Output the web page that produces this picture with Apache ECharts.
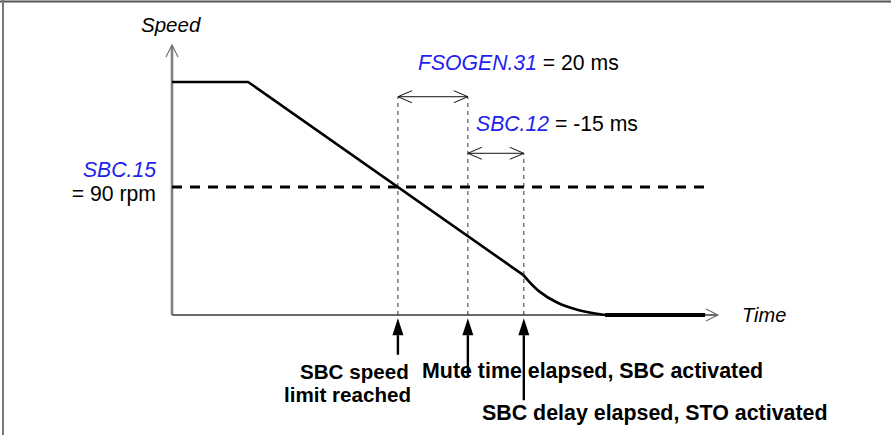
<!DOCTYPE html>
<html><head><meta charset="utf-8">
<script src="https://cdn.jsdelivr.net/npm/echarts@6/dist/echarts.min.js"></script>
<style>html,body{margin:0;padding:0;background:#fff}#c{width:891px;height:435px}</style>
</head><body><div id="c"></div>
<script>
// ---- data (schematic: time in arbitrary ms-like units, speed in rpm) ----
const speedProfile = [[0, 164], [22.3, 164], [102.9, 28.2]];
const decelTail = [[102.9, 28.2], [107.5, 16.8], [113, 8.6], [119, 3.6], [126.9, 0]];
const stoppedPart = [[126.9, 0], [156.2, 0]];
const speedLimit = 90;
const limitLineX = [0, 157.7];
const eventTimes = [66.2, 86.7, 103.1];      // limit reached, mute time elapsed, SBC delay elapsed
const markerTops = [153.6, 153.6, 113.8];     // top of the dotted guides
const intervalArrows = [[66.2, 86.7, 153.6], [86.7, 103.1, 113.8]]; // from, to, level
const eventArrowTails = [-28, -44, -60];
const eventArrowTip = -2.2;
const axisMaxX = 160, axisMaxY = 190;

const chart = echarts.init(document.getElementById('c'), null, {renderer: 'svg'});

// arrows: [x1, y1, x2, y2, kind]  kind 0 = axis, 1 = double interval arrow, 2 = event arrow
const arrowData = [
  [0, 0, 0, axisMaxY, 0],
  [0, 0, axisMaxX, 0, 0]
];
intervalArrows.forEach(a => arrowData.push([a[0], a[2], a[1], a[2], 1]));
eventTimes.forEach((t, i) => arrowData.push([t, eventArrowTails[i], t, eventArrowTip, 2]));

function renderArrow(params, api) {
  const p1 = api.coord([api.value(0), api.value(1)]);
  const p2 = api.coord([api.value(2), api.value(3)]);
  const kind = api.value(4);
  const dx = p2[0] - p1[0], dy = p2[1] - p1[1];
  const L = Math.hypot(dx, dy);
  const ux = dx / L, uy = dy / L, nx = -uy, ny = ux;
  const chev = (tip, sx, sy, len, half) => [
    [tip[0] - sx * len + nx * half, tip[1] - sy * len + ny * half],
    [tip[0], tip[1]],
    [tip[0] - sx * len - nx * half, tip[1] - sy * len - ny * half]
  ];
  const children = [];
  if (kind === 0) {
    const isY = Math.abs(dx) < 1;
    children.push({type: 'line', shape: {x1: p1[0], y1: p1[1], x2: p2[0] - ux * 1, y2: p2[1] - uy * 1},
      style: {stroke: isY ? '#808080' : '#6a6a6a', lineWidth: isY ? 2.6 : 1.8}});
    children.push({type: 'polyline', shape: {points: chev(p2, ux, uy, 12, 6)},
      style: {stroke: '#6a6a6a', lineWidth: 1.1, fill: null}});
  } else if (kind === 1) {
    children.push({type: 'line', shape: {x1: p1[0], y1: p1[1], x2: p2[0], y2: p2[1]},
      style: {stroke: '#111', lineWidth: 1}});
    children.push({type: 'polyline', shape: {points: chev(p2, ux, uy, 14, 6)},
      style: {stroke: '#111', lineWidth: 1, fill: null}});
    children.push({type: 'polyline', shape: {points: chev(p1, -ux, -uy, 14, 6)},
      style: {stroke: '#111', lineWidth: 1, fill: null}});
  } else {
    const hl = 17, hw = 5.5;
    children.push({type: 'line', shape: {x1: p1[0], y1: p1[1], x2: p2[0] - ux * hl, y2: p2[1] - uy * hl},
      style: {stroke: '#000', lineWidth: 2.4}});
    children.push({type: 'polygon', shape: {points: chev(p2, ux, uy, hl, hw)},
      style: {fill: '#000'}});
  }
  return {type: 'group', children};
}

const guideSeries = eventTimes.map((t, i) => ({
  type: 'line', data: [[t, 0], [t, markerTops[i]]], symbol: 'none', silent: true, z: 2,
  lineStyle: {color: '#333', width: 1, type: [4, 4]}
}));

const blue = '#1f1fee';
const lblFont = "Arial, 'Liberation Sans', sans-serif";
const fs = '21.2px ';
const fb = '21.4px ';
const fbs = '20.6px ';

chart.setOption({
  animation: false,
  backgroundColor: '#fff',
  grid: {left: 172, right: 173, top: 45, bottom: 120},
  xAxis: {type: 'value', min: 0, max: axisMaxX, show: false},
  yAxis: {type: 'value', min: 0, max: axisMaxY, show: false},
  series: [
    {type: 'custom', renderItem: renderArrow, data: arrowData, clip: false, silent: true, z: 1,
     encode: {x: [0, 2], y: [1, 3]}},
    ...guideSeries,
    {type: 'line', data: limitLineX.map(x => [x, speedLimit]), symbol: 'none', silent: true, z: 3,
     lineStyle: {color: '#000', width: 3, type: [10, 8]}},
    {type: 'line', data: speedProfile, symbol: 'none', silent: true, z: 4,
     lineStyle: {color: '#000', width: 2.6}},
    {type: 'line', data: decelTail, symbol: 'none', smooth: 0.35, silent: true, z: 4,
     lineStyle: {color: '#000', width: 2.6}},
    {type: 'line', data: stoppedPart, symbol: 'none', silent: true, z: 4, clip: false,
     lineStyle: {color: '#000', width: 4}}
  ],
  graphic: [
    {type: 'line', shape: {x1: 0, y1: 1.5, x2: 891, y2: 1.5}, style: {stroke: '#555', lineWidth: 2}},
    {type: 'line', shape: {x1: 3, y1: 0, x2: 3, y2: 435}, style: {stroke: '#777', lineWidth: 2}},
    {type: 'text', x: 141, y: 24, style: {text: 'Speed', font: 'italic 20.5px ' + lblFont, fill: '#000', verticalAlign: 'middle'}},
    {type: 'text', x: 742, y: 315, style: {text: 'Time', font: 'italic 20px ' + lblFont, fill: '#000', verticalAlign: 'middle'}},
    {type: 'text', x: 418, y: 62, style: {text: '{p|FSOGEN.31}{v| = 20 ms}', verticalAlign: 'middle',
      rich: {p: {font: 'italic ' + fs + lblFont, fill: blue}, v: {font: fs + lblFont, fill: '#000'}}}},
    {type: 'text', x: 476, y: 123, style: {text: '{p|SBC.12}{v| = -15 ms}', verticalAlign: 'middle',
      rich: {p: {font: 'italic ' + fs + lblFont, fill: blue}, v: {font: fs + lblFont, fill: '#000'}}}},
    {type: 'text', x: 156, y: 169, style: {text: 'SBC.15', font: 'italic ' + fs + lblFont, fill: blue, align: 'right', verticalAlign: 'middle'}},
    {type: 'text', x: 156, y: 193, style: {text: '= 90 rpm', font: fs + lblFont, fill: '#000', align: 'right', verticalAlign: 'middle'}},
    {type: 'text', x: 300, y: 371, style: {text: 'SBC speed', font: 'bold ' + fbs + lblFont, fill: '#000', verticalAlign: 'middle'}},
    {type: 'text', x: 284, y: 394, style: {text: 'limit reached', font: 'bold ' + fbs + lblFont, fill: '#000', verticalAlign: 'middle'}},
    {type: 'text', x: 422, y: 371, style: {text: 'Mute time elapsed, SBC activated', font: 'bold ' + fb + lblFont, fill: '#000', verticalAlign: 'middle'}},
    {type: 'text', x: 482, y: 413, style: {text: 'SBC delay elapsed, STO activated', font: 'bold ' + fb + lblFont, fill: '#000', verticalAlign: 'middle'}}
  ]
});
</script></body></html>
